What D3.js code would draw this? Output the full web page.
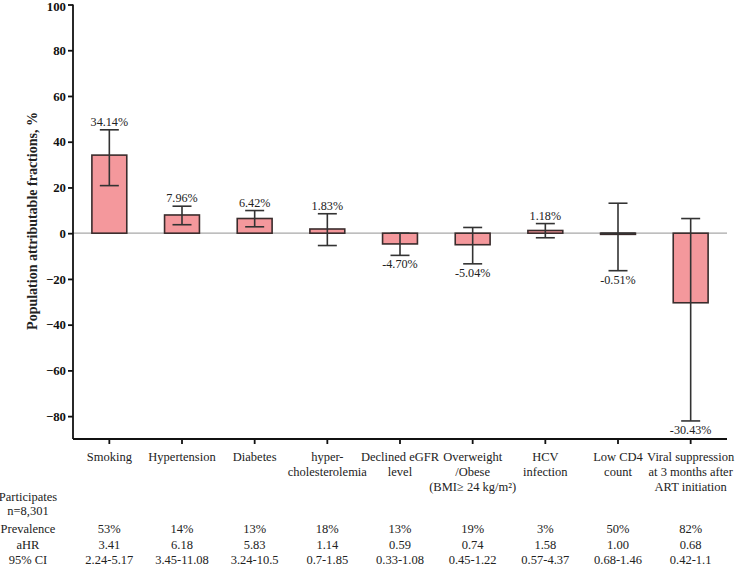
<!DOCTYPE html>
<html><head><meta charset="utf-8">
<script src="https://cdn.jsdelivr.net/npm/d3@7"></script>
<style>body{margin:0;background:#fff}svg text{font-family:"Liberation Serif","Times New Roman",serif}</style>
</head><body><svg id="c" width="735" height="566"></svg>
<script>
const categories = [["Smoking"],["Hypertension"],["Diabetes"],["hyper-","cholesterolemia"],["Declined eGFR","level"],["Overweight","/Obese","(BMI\u2265 24 kg/m\u00B2)"],["HCV","infection"],["Low CD4","count"],["Viral suppression","at 3 months after","ART initiation"]];
const paf = [34.14, 7.96, 6.42, 1.83, -4.70, -5.04, 1.18, -0.51, -30.43];
const ciLow = [20.8, 3.7, 2.8, -5.4, -9.7, -13.4, -2.0, -16.4, -82.1];
const ciHigh = [45.2, 11.8, 9.9, 8.5, 0.0, 2.5, 4.2, 13.1, 6.4];
const prevalence = ["53%","14%","13%","18%","13%","19%","3%","50%","82%"];
const aHR = ["3.41","6.18","5.83","1.14","0.59","0.74","1.58","1.00","0.68"];
const ci95 = ["2.24-5.17","3.45-11.08","3.24-10.5","0.7-1.85","0.33-1.08","0.45-1.22","0.57-4.37","0.68-1.46","0.42-1.1"];
const yTicks = [-80,-60,-40,-20,0,20,40,60,80,100];

const svg = d3.select("#c");
const L = 73, R = 727, T = 4.5, B = 439;
const idx = d3.range(categories.length);
const x = d3.scaleBand().domain(idx).range([L, R]).paddingInner(0.52).paddingOuter(0.26);
const y = d3.scaleLinear().domain([-90, 100]).range([B, T]);
const cx = i => x(i) + x.bandwidth()/2;

// zero line
svg.append("line").attr("x1", L).attr("x2", R).attr("y1", y(0)).attr("y2", y(0))
  .attr("stroke", "#a8a8a8").attr("stroke-width", 1.2);

// bars
svg.selectAll("rect.bar").data(idx).join("rect").attr("class","bar")
  .attr("x", i => x(i)).attr("width", x.bandwidth())
  .attr("y", i => y(Math.max(0, paf[i]))).attr("height", i => Math.abs(y(paf[i]) - y(0)))
  .attr("fill", "#f4989c").attr("stroke", "#3a2c2c").attr("stroke-width", 1.6);

// error bars
const cap = 9.5;
const eb = svg.append("g").attr("stroke", "#333").attr("stroke-width", 1.6);
idx.forEach(i => {
  eb.append("line").attr("x1", cx(i)).attr("x2", cx(i)).attr("y1", y(ciHigh[i])).attr("y2", y(ciLow[i]));
  eb.append("line").attr("x1", cx(i)-cap).attr("x2", cx(i)+cap).attr("y1", y(ciHigh[i])).attr("y2", y(ciHigh[i]));
  eb.append("line").attr("x1", cx(i)-cap).attr("x2", cx(i)+cap).attr("y1", y(ciLow[i])).attr("y2", y(ciLow[i]));
});
svg.selectAll("line.zb").data(idx.filter(i => Math.abs(paf[i]) < 1)).join("line").attr("class","zb")
  .attr("x1", i => x(i)).attr("x2", i => x(i)+x.bandwidth()).attr("y1", y(0)).attr("y2", y(0))
  .attr("stroke", "#333").attr("stroke-width", 1.6);

// value labels
svg.selectAll("text.val").data(idx).join("text").attr("class","val")
  .attr("x", cx).attr("y", i => paf[i] >= 0 ? y(ciHigh[i]) - 4 : y(ciLow[i]) + 13)
  .attr("text-anchor", "middle").attr("font-size", 12.2).attr("fill", "#222")
  .text(i => paf[i].toFixed(2) + "%");

// y axis
const ya = svg.append("g").attr("transform", `translate(${L},0)`)
  .call(d3.axisLeft(y).tickValues(yTicks).tickSize(5).tickPadding(2).tickFormat(d3.format("d")));
ya.select(".domain").attr("d", `M0,${T}V${B}`).attr("stroke", "#111").attr("stroke-width", 1.8);
ya.selectAll(".tick line").attr("stroke", "#111").attr("stroke-width", 1.8);
ya.selectAll(".tick text").attr("font-size", 12.8).attr("font-weight", "bold").attr("fill", "#111")
  .attr("font-family", '"Liberation Serif",serif')
  .attr("dy", d => d === 100 ? "0.45em" : "0.32em");

// x axis
const xa = svg.append("g").attr("transform", `translate(0,${B})`)
  .call(d3.axisBottom(x).tickSize(5).tickFormat(""));
xa.select(".domain").attr("d", `M${L},0H${R}`).attr("stroke", "#111").attr("stroke-width", 1.8);
xa.selectAll(".tick line").attr("stroke", "#111").attr("stroke-width", 1.8);

// category labels
idx.forEach(i => {
  categories[i].forEach((s, k) => {
    svg.append("text").attr("x", cx(i)).attr("y", 460.5 + k*15).attr("text-anchor", "middle")
      .attr("font-size", 12.5).attr("fill", "#222").text(s);
  });
});

// y title
svg.append("text").attr("transform", "translate(37,221) rotate(-90)").attr("text-anchor", "middle")
  .attr("font-size", 14).attr("font-weight", "bold").attr("fill", "#222")
  .text("Population attributable fractions, %");

// table
const rowLabels = ["Prevalence", "aHR", "95% CI"];
const rows = [prevalence, aHR, ci95];
const rowY = [533, 549, 564];
svg.append("text").attr("x", 28).attr("y", 501).attr("text-anchor","middle").attr("font-size",12.5).attr("fill","#222").text("Participates");
svg.append("text").attr("x", 28).attr("y", 515).attr("text-anchor","middle").attr("font-size",12.5).attr("fill","#222").text("n=8,301");
rows.forEach((r, k) => {
  svg.append("text").attr("x", 28).attr("y", rowY[k]).attr("text-anchor","middle").attr("font-size",12.5).attr("fill","#222").text(rowLabels[k]);
  idx.forEach(i => {
    svg.append("text").attr("x", cx(i)).attr("y", rowY[k]).attr("text-anchor","middle").attr("font-size",12.5).attr("fill","#222").text(r[i]);
  });
});
</script></body></html>
